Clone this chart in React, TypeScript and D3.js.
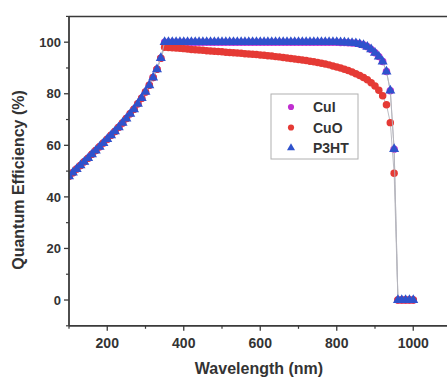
import React from "react";
import * as d3 from "d3";

// Wavelength grid (nm)
const wavelength = [
  100, 110, 120, 130, 140, 150, 160, 170, 180, 190,
  200, 210, 220, 230, 240, 250, 260, 270, 280, 290,
  300, 310, 320, 330, 340, 350, 360, 370, 380, 390,
  400, 410, 420, 430, 440, 450, 460, 470, 480, 490,
  500, 510, 520, 530, 540, 550, 560, 570, 580, 590,
  600, 610, 620, 630, 640, 650, 660, 670, 680, 690,
  700, 710, 720, 730, 740, 750, 760, 770, 780, 790,
  800, 810, 820, 830, 840, 850, 860, 870, 880, 890,
  900, 910, 920, 930, 940, 950, 960, 970, 980, 990,
  1000,
];

// Quantum efficiency (%) for each hole-transport layer
const cuI = [
  48.0, 49.4, 50.8, 52.2, 53.6, 55.0, 56.5, 58.0, 59.4, 60.9,
  62.4, 63.9, 65.4, 67.0, 68.7, 70.4, 72.2, 74.0, 76.1, 78.3,
  80.7, 83.3, 86.3, 89.5, 93.8, 100.0, 100.0, 100.0, 100.0, 100.0,
  100.0, 100.0, 100.0, 100.0, 100.0, 100.0, 100.0, 100.0, 100.0, 100.0,
  100.0, 100.0, 100.0, 100.0, 100.0, 100.0, 100.0, 100.0, 100.0, 100.0,
  100.0, 100.0, 100.0, 100.0, 100.0, 100.0, 100.0, 100.0, 100.0, 100.0,
  100.0, 100.0, 100.0, 100.0, 100.0, 100.0, 100.0, 100.0, 100.0, 100.0,
  100.0, 99.9, 99.9, 99.8, 99.7, 99.6, 99.3, 98.9, 98.2, 97.2,
  95.9, 94.4, 92.5, 88.6, 81.2, 58.5, 0, 0, 0, 0,
  0,
];

const cuO = [
  48.0, 49.4, 50.8, 52.2, 53.6, 55.0, 56.5, 58.0, 59.4, 60.9,
  62.4, 63.9, 65.4, 67.0, 68.7, 70.4, 72.2, 74.0, 76.1, 78.3,
  80.7, 83.3, 86.3, 89.5, 93.8, 98.0, 97.9, 97.8, 97.7, 97.6,
  97.5, 97.4, 97.2, 97.1, 97.0, 96.9, 96.7, 96.6, 96.5, 96.4,
  96.3, 96.1, 96.0, 95.9, 95.8, 95.7, 95.5, 95.4, 95.3, 95.2,
  95.0, 94.9, 94.7, 94.6, 94.4, 94.3, 94.1, 93.9, 93.7, 93.5,
  93.3, 93.1, 92.9, 92.6, 92.4, 92.1, 91.8, 91.5, 91.2, 90.8,
  90.4, 90.0, 89.5, 89.0, 88.4, 87.8, 87.1, 86.3, 85.4, 84.3,
  83.0, 81.4, 79.2, 75.7, 68.8, 49.2, 0, 0, 0, 0,
  0,
];

const p3ht = [
  48.0, 49.4, 50.8, 52.2, 53.6, 55.0, 56.5, 58.0, 59.4, 60.9,
  62.4, 63.9, 65.4, 67.0, 68.7, 70.4, 72.2, 74.0, 76.1, 78.3,
  80.7, 83.3, 86.3, 89.5, 93.8, 100.0, 100.0, 100.0, 100.0, 100.0,
  100.0, 100.0, 100.0, 100.0, 100.0, 100.0, 100.0, 100.0, 100.0, 100.0,
  100.0, 100.0, 100.0, 100.0, 100.0, 100.0, 100.0, 100.0, 100.0, 100.0,
  100.0, 100.0, 100.0, 100.0, 100.0, 100.0, 100.0, 100.0, 100.0, 100.0,
  100.0, 100.0, 100.0, 100.0, 100.0, 100.0, 100.0, 100.0, 100.0, 100.0,
  100.0, 99.9, 99.9, 99.8, 99.7, 99.6, 99.3, 98.9, 98.2, 97.2,
  95.9, 94.4, 92.5, 88.6, 81.2, 58.5, 0, 0, 0, 0,
  0,
];

const seriesNames = ["CuI", "CuO", "P3HT"];
const seriesColors = ["#c02fd0", "#e53a35", "#2f52cc"];
const seriesShapes = ["circle", "circle", "triangle"];

const xMajorTicks = [200, 400, 600, 800, 1000];
const xMinorTicks = [100, 300, 500, 700, 900, 1100];
const yMajorTicks = [0, 20, 40, 60, 80, 100];
const yMinorTicks = [-10, 10, 30, 50, 70, 90, 110];

const W = 447;
const H = 379;
const left = 69;
const top = 16.4;
const bottom = 325.8;

const x = d3.scaleLinear().domain([100, 1100]).range([left, 451.5]);
const y = d3.scaleLinear().domain([-10, 110]).range([bottom, top]);

const triangle = d3.symbol().type(d3.symbolTriangle).size(44)();
const circle = d3.symbol().type(d3.symbolCircle).size(44)();
const legendTriangle = d3.symbol().type(d3.symbolTriangle).size(28)();
const legendCircle = d3.symbol().type(d3.symbolCircle).size(30)();

const axisColor = "#3a3a3a";
const font = "'Liberation Sans', Arial, sans-serif";

function Series({ values, color, shape }: { values: number[]; color: string; shape: string }) {
  const pts = wavelength.map((w, i) => [x(w), y(values[i])] as [number, number]);
  const line = d3.line()(pts) || "";
  const path = shape === "triangle" ? triangle : circle;
  return (
    <g>
      <path d={line} fill="none" stroke="#b4b4bc" strokeWidth={0.9} />
      {pts.map(([px, py], i) => (
        <path key={i} d={path || ""} transform={`translate(${px},${py})`} fill={color} />
      ))}
    </g>
  );
}

export default function App() {
  const allSeries = [cuI, cuO, p3ht];
  return (
    <svg
      width={W}
      height={H}
      style={{ position: "absolute", left: 0, top: 0, background: "#fff" }}
      fontFamily={font}
    >
      <defs>
        <clipPath id="plot">
          <rect x={left} y={top} width={W - left} height={bottom - top} />
        </clipPath>
      </defs>

      <g clipPath="url(#plot)">
        {allSeries.map((vals, i) => (
          <Series key={i} values={vals} color={seriesColors[i]} shape={seriesShapes[i]} />
        ))}
      </g>

      {/* frame */}
      <line x1={left} x2={W} y1={top} y2={top} stroke={axisColor} strokeWidth={1.5} />
      <line x1={left} x2={left} y1={top} y2={bottom} stroke={axisColor} strokeWidth={1.8} />
      <line x1={left} x2={W} y1={bottom} y2={bottom} stroke={axisColor} strokeWidth={1.8} />

      {/* y ticks */}
      {yMajorTicks.map((t) => (
        <g key={"ym" + t}>
          <line x1={left - 5} x2={left} y1={y(t)} y2={y(t)} stroke={axisColor} strokeWidth={1.3} />
          <text x={left - 8} y={y(t)} dy="0.36em" textAnchor="end" fontSize={13} fontWeight="bold" fill="#333">
            {t}
          </text>
        </g>
      ))}
      {yMinorTicks.map((t) => (
        <line key={"yn" + t} x1={left - 3} x2={left} y1={y(t)} y2={y(t)} stroke={axisColor} strokeWidth={1.2} />
      ))}

      {/* x ticks */}
      {xMajorTicks.map((t) => (
        <g key={"xm" + t}>
          <line x1={x(t)} x2={x(t)} y1={bottom} y2={bottom + 5} stroke={axisColor} strokeWidth={1.3} />
          <text x={x(t)} y={bottom + 22} textAnchor="middle" fontSize={14} fontWeight="bold" fill="#333">
            {t}
          </text>
        </g>
      ))}
      {xMinorTicks.map((t) => (
        <line key={"xn" + t} x1={x(t)} x2={x(t)} y1={bottom} y2={bottom + 3} stroke={axisColor} strokeWidth={1.2} />
      ))}

      {/* axis titles */}
      <text
        transform={`translate(24,${(90 + 270) / 2}) rotate(-90)`}
        textAnchor="middle"
        fontSize={16}
        fontWeight="bold"
        fill="#333"
      >
        Quantum Efficiency (%)
      </text>
      <text x={259} y={374} textAnchor="middle" fontSize={16} fontWeight="bold" fill="#333">
        Wavelength (nm)
      </text>

      {/* legend */}
      <g>
        <rect x={271} y={94} width={87} height={65} fill="#fff" stroke="#b0b0b0" strokeWidth={1} />
        {seriesNames.map((name, i) => {
          const ly = 107 + i * 20.5;
          const path = seriesShapes[i] === "triangle" ? legendTriangle : legendCircle;
          return (
            <g key={name}>
              <path d={path || ""} transform={`translate(291,${ly})`} fill={seriesColors[i]} />
              <text x={313} y={ly} dy="0.36em" fontSize={14} fontWeight="bold" fill="#333">
                {name}
              </text>
            </g>
          );
        })}
      </g>
    </svg>
  );
}
